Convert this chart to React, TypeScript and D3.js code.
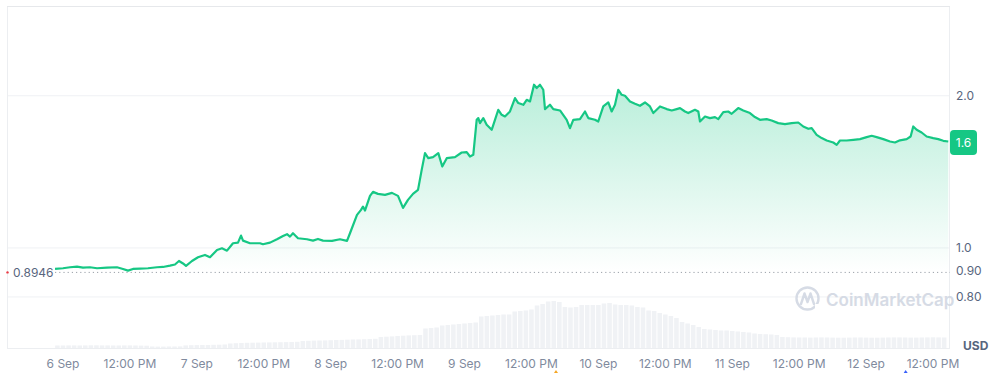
import React from "react";
import * as d3 from "d3";

// Time in hours since 6 Sep 00:00
const hours = [-1.43,0,1.26,2.51,3.59,4.84,6.10,7.89,9.68,10.76,11.66,12.55,13.81,15.24,16.86,17.93,19.18,20.08,20.80,21.52,22.06,23.13,24.21,25.46,26.36,27.62,28.51,29.41,30.48,31.38,31.92,32.28,33.53,35.32,35.86,37.12,38.37,39.45,40.17,40.70,41.24,42.14,43.75,44.83,45.72,46.62,48.23,49.67,50.93,51.46,52.72,53.44,53.79,54.15,55.05,55.59,56.48,57.74,58.99,60.07,60.97,61.86,62.76,63.66,64.32,64.91,65.50,66.35,67.30,68.01,68.81,70.29,71.49,72.39,72.98,73.57,74.18,74.47,74.77,75.36,75.97,76.87,77.46,78.05,78.66,79.25,80.15,81.05,81.64,82.54,83.15,83.74,84.46,84.94,85.53,86.12,86.43,87.32,87.92,89.12,90.32,90.91,91.50,92.70,93.60,94.19,95.39,95.98,96.88,97.78,98.39,98.98,99.57,100.18,100.77,101.67,102.57,103.46,104.36,105.25,105.85,107.05,108.25,109.15,110.04,110.64,111.53,112.12,113.32,113.92,114.22,115.12,116.01,116.91,117.50,118.40,119.29,119.90,121.08,121.98,123.18,124.07,124.97,126.17,127.07,128.25,129.46,130.66,131.84,132.74,133.64,134.25,135.14,136.04,136.94,138.12,138.73,139.32,140.52,141.71,142.91,144.11,145.01,145.90,147.09,148.29,149.18,150.08,151.28,151.99,152.46,153.07,153.96,154.86,156.04,156.94,157.84,158.74];

const prices = [0.9087,0.9116,0.9158,0.9182,0.9141,0.9158,0.9116,0.9141,0.9158,0.9087,0.9017,0.9087,0.9099,0.9116,0.9158,0.9170,0.9225,0.9275,0.9424,0.9318,0.9212,0.9424,0.9585,0.9686,0.9585,0.9909,0.9986,0.9878,1.0217,1.0245,1.0577,1.0339,1.0217,1.0217,1.0170,1.0245,1.0405,1.0562,1.0645,1.0529,1.0693,1.0452,1.0405,1.0339,1.0419,1.0339,1.0325,1.0405,1.0325,1.0693,1.1624,1.1892,1.2072,1.1854,1.2676,1.2910,1.2792,1.2734,1.2850,1.2676,1.2001,1.2447,1.2792,1.3028,1.4272,1.5401,1.5053,1.5123,1.5401,1.4488,1.5053,1.5123,1.5444,1.5472,1.5164,1.5283,1.7925,1.8064,1.7657,1.8064,1.7522,1.7127,1.7925,1.8763,1.8340,1.8197,1.8617,1.9790,1.9344,1.9195,1.9638,1.9486,2.1029,2.0714,2.1029,2.0555,1.8823,1.9195,1.8823,1.8703,1.7925,1.7260,1.7925,1.7983,1.8617,1.8064,1.7925,1.7787,1.9048,1.9398,1.8617,1.9195,2.0555,2.0091,2.0000,1.9486,1.9282,1.9107,1.9398,1.9048,1.8482,1.9048,1.8823,1.8703,1.8823,1.8908,1.8617,1.8482,1.8763,1.8617,1.7787,1.8197,1.8064,1.8148,1.7983,1.8567,1.8617,1.8423,1.8908,1.8703,1.8482,1.8148,1.7925,1.7983,1.7868,1.7657,1.7578,1.7657,1.7707,1.7387,1.7206,1.7260,1.6742,1.6491,1.6312,1.6164,1.5995,1.6312,1.6312,1.6364,1.6416,1.6567,1.6665,1.6567,1.6416,1.6237,1.6164,1.6326,1.6416,1.6612,1.7387,1.7127,1.6919,1.6612,1.6491,1.6416,1.6289,1.6237];

// Hourly 24h volume (millions USD), starting at hour -1
const volumeStartHour = -1;
const volumes = [
  2.5,2.5,2.6,2.6,2.5,2.6,2.7,2.7,2.6,2.6,2.5,2.5,2.6,2.6,2.5,2.4,2.3,
  1.5,1.4,1.4,1.5,1.5,1.6,
  2.6,2.8,2.9,3.0,3.0,3.2,3.3,3.5,
  4.5,4.8,5.0,5.2,5.3,5.4,5.5,5.6,5.7,5.8,5.9,6.0,6.2,
  7.0,7.2,7.4,7.5,7.6,7.8,8.0,8.1,8.3,8.5,8.6,8.8,9.0,9.2,
  11.0,11.3,11.6,12.0,12.3,12.6,12.8,13.0,
  19.5,20.0,20.5,
  22.5,23.0,23.5,24.0,24.5,25.0,25.5,
  31.5,32.0,32.5,33.0,33.5,33.5,
  36.5,37.0,37.5,38.5,
  42.5,44.0,
  46.5,47.0,46.0,
  41.0,40.5,41.0,
  43.0,43.0,43.0,43.0,44.5,45.0,43.5,43.0,43.0,42.5,
  41.0,40.5,
  37.5,37.0,
  35.0,33.5,32.0,30.0,
  26.0,24.5,23.0,21.0,
  19.0,18.5,18.0,17.5,17.5,17.0,16.5,16.0,15.5,
  14.5,14.0,13.8,13.5,13.0,
  11.0,10.8,10.6,10.5,10.5,10.4,10.5,10.6,10.5,10.4,10.3,10.3,10.4,10.5,10.5,
  10.4,10.3,10.3,10.4,10.5,10.6,10.6,10.5,10.4,10.4,10.5,10.6,10.7,10.6,10.5
];

const xTickHours = [0,12,24,36,48,60,72,84,96,108,120,132,144,156];
const xTickLabels = ["6 Sep","12:00 PM","7 Sep","12:00 PM","8 Sep","12:00 PM","9 Sep","12:00 PM","10 Sep","12:00 PM","11 Sep","12:00 PM","12 Sep","12:00 PM"];
const yTickValues = [2.0, 1.0, 0.9, 0.8];
const yTickLabels = ["2.0", "1.0", "0.90", "0.80"];
const gridValues = [2.0, 1.0, 0.8];
const openPrice = 0.8946;
const openPriceLabel = "0.8946";
const currencyLabel = "USD";
const watermarkText = "CoinMarketCap";

export default function App() {
  const W = 994, H = 373;
  const left = 7, right = 950, top = 6, bottom = 348;
  const x = d3.scaleLinear().domain([-10.04, 159.05]).range([left, right]);
  const y = d3.scaleLog().domain([0.634, 3.01]).range([bottom, top]);
  const vy = d3.scaleLinear().domain([0, 48]).range([bottom, bottom - 48]);
  const n = Math.min(hours.length, prices.length);
  const data = d3.range(n).map((i) => ({ h: hours[i], p: prices[i] }));
  const line = d3.line<any>().x((d) => x(d.h)).y((d) => y(d.p));
  const area = d3.area<any>().x((d) => x(d.h)).y0(y(openPrice)).y1((d) => y(d.p));
  const last = data[data.length - 1];
  const maxP = d3.max(data, (d) => d.p) as number;
  const hourW = x(1) - x(0);
  const bw = hourW * 0.82;
  const font = "Inter, 'Noto Sans', sans-serif";
  const lastY = y(last.p);

  return (
    <div style={{ position: "absolute", left: 0, top: 0 }}>
      <svg width={W} height={H} style={{ display: "block", background: "#fff" }}>
        <defs>
          <linearGradient id="ag" gradientUnits="userSpaceOnUse" x1={0} x2={0} y1={y(maxP)} y2={y(openPrice)}>
            <stop offset="0" stopColor="#16c784" stopOpacity={0.3} />
            <stop offset="1" stopColor="#16c784" stopOpacity={0.0} />
          </linearGradient>
        </defs>
        {/* volume bars */}
        <g>
          {volumes.map((v, i) => {
            const h = volumeStartHour + i;
            return (
              <rect key={i} x={x(h) - bw / 2} y={vy(v)} width={bw} height={bottom - vy(v)} fill="#f0f2f5" />
            );
          })}
        </g>
        {/* grid lines */}
        {gridValues.map((g, i) => (
          <line key={i} x1={left} x2={right} y1={y(g)} y2={y(g)} stroke="#eff1f4" strokeWidth={1} />
        ))}
        {/* frame */}
        <rect x={left + 0.5} y={top + 0.5} width={right - left - 1} height={bottom - top} fill="none" stroke="#eceef1" strokeWidth={1} />
        <line x1={left} x2={right} y1={top + 0.5} y2={top + 0.5} stroke="#e6e8eb" />
        {/* watermark */}
        <g opacity={0.9}>
          <circle cx={807.5} cy={298.5} r={11} fill="none" stroke="#d2d8e3" strokeWidth={2.4} />
          <path d="M801,304 L804.5,293.5 L807.5,302 L810.5,293.5 L814,304" fill="none" stroke="#d2d8e3" strokeWidth={2.4} strokeLinejoin="round" strokeLinecap="round" />
          <rect x={815} y={304} width={6} height={6} fill="#fff" />
          <text x={826} y={299.5} dy="0.36em" fontFamily={font} fontSize={17} fontWeight={600} fill="#d2d8e3">{watermarkText}</text>
        </g>
        {/* area and line */}
        <path d={area(data) || ""} fill="url(#ag)" />
        <line x1={x(hours[0])} x2={right} y1={y(openPrice)} y2={y(openPrice)} stroke="#9aa0a8" strokeWidth={1} strokeDasharray="1.2 3" />
        <path d={line(data) || ""} fill="none" stroke="#16c784" strokeWidth={2.2} strokeLinejoin="round" />
        {/* open price label */}
        <circle cx={7.5} cy={y(openPrice)} r={1.2} fill="#ea3943" />
        <text x={13} y={y(openPrice) + 0.8} dy="0.35em" fontFamily={font} fontSize={12} fill="#58667e">{openPriceLabel}</text>
        {/* y axis labels */}
        {yTickValues.map((v, i) => (
          <text key={i} x={956} y={y(v)} dy="0.35em" fontFamily={font} fontSize={12} fill="#58667e">{yTickLabels[i]}</text>
        ))}
        {/* price tag */}
        <rect x={950} y={lastY - 11.5} width={27} height={25} rx={4} fill="#16c784" />
        <text x={963.5} y={lastY + 1} dy="0.35em" textAnchor="middle" fontFamily={font} fontSize={12} fill="#fff">{d3.format(".2r")(last.p)}</text>
        {/* currency */}
        <text x={963} y={345.5} dy="0.35em" fontFamily={font} fontSize={12} fontWeight={700} fill="#58667e">{currencyLabel}</text>
        {/* x axis labels */}
        {xTickHours.map((h, i) => (
          <text key={i} x={x(h)} y={364} dy="0.35em" textAnchor="middle" fontFamily={font} fontSize={12} fill="#808a9d">{xTickLabels[i]}</text>
        ))}
        {/* event markers */}
        <path d={`M${x(88.4) - 2},373 L${x(88.4)},370 L${x(88.4) + 2},373 Z`} fill="#f5a623" />
        <path d={`M${x(151.1) - 2},373 L${x(151.1)},370 L${x(151.1) + 2},373 Z`} fill="#3861fb" />
      </svg>
    </div>
  );
}
